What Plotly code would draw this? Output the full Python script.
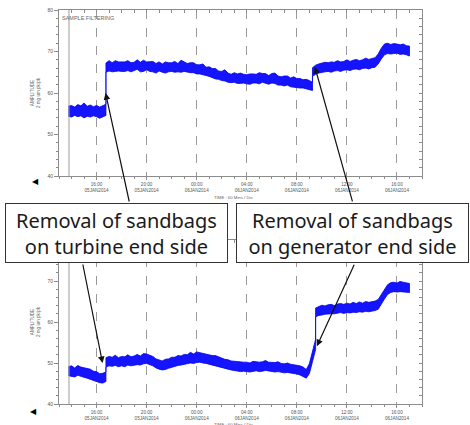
import numpy as np
import pandas as pd
import plotly.graph_objects as go

# ---------------- data (hours after 2014-01-05 00:00) ----------------
BASE = pd.Timestamp("2014-01-05")
STEP = 0.25

# top chart (turbine end) : three segments separated by the two jumps
TOP_T_A = np.arange(13.75, 16.76, STEP)
TOP_HI_A = [56.8, 57.0, 56.6, 57.2, 56.9, 57.6, 56.8, 57.1, 56.7, 57.0, 56.6, 56.9, 57.3]
TOP_LO_A = [54.4, 54.2, 54.6, 54.3, 54.5, 54.0, 54.4, 54.2, 54.5, 54.3, 53.9, 54.3, 54.6]

TOP_T_B = np.arange(16.75, 33.26, STEP)
TOP_HI_B = [67.2, 67.8, 67.3, 67.8, 67.5, 67.5, 67.5, 67.8, 67.3, 67.4,
            68.0, 67.4, 67.9, 67.5, 67.5, 67.6, 67.1, 67.5, 67.0, 67.5,
            67.3, 67.3, 67.6, 67.1, 67.9, 67.5, 67.1, 67.3, 67.3, 66.8,
            66.8, 67.0, 66.2, 66.3, 65.9, 65.9, 65.3, 65.2, 65.6, 64.8,
            64.5, 64.9, 64.6, 64.8, 64.5, 64.4, 64.6, 64.6, 64.5, 64.9,
            64.7, 64.7, 64.2, 64.7, 64.8, 64.1, 63.9, 64.1, 64.1, 63.6,
            63.9, 63.5, 63.5, 63.2, 63.3, 63.0, 62.6]
TOP_LO_B = [65.0, 65.3, 65.1, 65.2, 65.3, 65.2, 65.2, 65.4, 65.1, 65.3,
            65.7, 65.1, 65.2, 65.6, 65.2, 65.1, 64.8, 65.3, 65.0, 64.8,
            65.1, 65.2, 65.0, 65.1, 65.0, 65.2, 65.0, 64.9, 64.9, 64.6,
            64.6, 64.4, 64.2, 64.0, 63.8, 63.4, 63.3, 63.0, 62.9, 62.6,
            62.5, 62.6, 62.3, 62.3, 62.4, 62.2, 62.1, 62.4, 62.4, 62.2,
            62.6, 62.3, 62.1, 62.4, 62.3, 61.9, 61.9, 61.7, 61.9, 61.5,
            61.5, 61.3, 61.2, 61.2, 60.9, 60.8, 60.6]

TOP_T_C = np.arange(33.25, 41.01, STEP)
TOP_HI_C = [66.1, 66.7, 67.0, 67.2, 67.4, 67.3, 67.5, 67.4, 67.8, 67.5,
            67.6, 68.0, 67.6, 67.9, 68.1, 67.8, 68.0, 68.4, 68.1, 68.3,
            68.5, 69.4, 70.8, 71.8, 72.0, 71.7, 71.9, 71.8, 71.6, 71.8,
            71.4, 71.3]
TOP_LO_C = [64.0, 64.5, 64.8, 65.0, 65.1, 65.2, 65.0, 65.3, 65.4, 65.2,
            65.5, 65.6, 65.4, 65.7, 65.8, 65.6, 65.9, 66.0, 65.8, 66.1,
            66.2, 67.0, 68.2, 69.2, 69.5, 69.4, 69.5, 69.6, 69.3, 69.4,
            69.2, 68.9]

# bottom chart (generator end)
BOT_T_A = np.arange(13.75, 16.76, STEP)
BOT_HI_A = [49.1, 49.3, 48.8, 49.4, 49.0, 48.8, 48.6, 48.5, 48.0, 47.9, 47.4, 47.5, 47.8]
BOT_LO_A = [46.9, 46.8, 46.6, 47.0, 46.7, 46.5, 46.3, 46.1, 45.8, 45.5, 45.2, 45.1, 45.5]

BOT_T_B = np.arange(16.75, 33.51, STEP)
BOT_HI_B = [51.3, 51.6, 51.4, 51.9, 51.3, 51.6, 51.5, 52.0, 51.5, 51.7,
            52.1, 51.7, 52.3, 52.2, 51.9, 51.6, 51.0, 50.8, 50.5, 50.9,
            51.0, 51.4, 51.4, 51.8, 51.7, 52.1, 52.0, 52.6, 52.2, 52.7,
            52.5, 52.4, 52.1, 52.0, 51.8, 51.8, 51.4, 51.2, 50.9, 50.8,
            50.5, 50.4, 50.3, 50.3, 50.2, 50.2, 50.0, 50.4, 50.3, 50.2,
            50.3, 50.6, 50.2, 50.1, 50.1, 50.3, 49.9, 49.8, 50.0, 49.7,
            49.6, 49.5, 49.3, 49.0, 48.4, 49.8, 52.8, 55.8]
BOT_LO_B = [49.0, 49.3, 49.2, 49.4, 49.1, 49.3, 49.1, 49.5, 49.3, 49.4,
            49.6, 49.5, 49.8, 49.9, 49.7, 49.3, 48.8, 48.5, 48.3, 48.4,
            48.7, 49.0, 49.2, 49.4, 49.5, 49.7, 49.8, 50.0, 49.9, 50.1,
            50.2, 50.0, 49.9, 49.7, 49.6, 49.4, 49.2, 48.9, 48.7, 48.5,
            48.3, 48.1, 48.0, 47.9, 48.0, 47.9, 47.8, 48.0, 48.1, 47.9,
            48.0, 48.2, 48.0, 47.9, 47.8, 47.9, 47.7, 47.6, 47.7, 47.5,
            47.4, 47.3, 47.1, 46.8, 46.3, 47.4, 50.3, 53.3]

BOT_T_C = np.arange(33.5, 41.01, STEP)
BOT_HI_C = [63.4, 63.7, 64.1, 63.9, 64.2, 64.3, 64.0, 64.4, 64.5, 64.3,
            64.6, 64.4, 64.8, 64.5, 64.9, 64.6, 65.0, 64.8, 65.0, 65.1,
            65.5, 66.8, 68.0, 69.1, 69.6, 69.7, 69.5, 69.9, 69.7, 69.5, 69.4]
BOT_LO_C = [61.3, 61.6, 61.7, 61.9, 62.0, 62.0, 62.0, 62.1, 62.3, 62.1,
            62.3, 62.2, 62.4, 62.3, 62.5, 62.4, 62.6, 62.5, 62.7, 62.8,
            63.1, 64.3, 65.6, 66.7, 67.2, 67.4, 67.3, 67.4, 67.4, 67.3, 67.2]

# axes
X_RANGE_H = [13, 42]
Y_RANGE = [40, 80]
MAJOR_H = [16, 20, 24, 28, 32, 36, 40]
MAJOR_TEXT = ["16:00<br>05JAN2014", "20:00<br>05JAN2014", "00:00<br>06JAN2014",
              "04:00<br>06JAN2014", "08:00<br>06JAN2014", "12:00<br>06JAN2014",
              "16:00<br>06JAN2014"]
MINOR_H = list(range(13, 43))
Y_MAJOR = [40, 50, 60, 70, 80]
Y_MINOR = list(range(40, 81, 2))
CURSOR_H = 13.8

# arrow heads (hour, value) for top and bottom charts
TOP_ARROWS = [(16.72, 60.0), (33.44, 66.3)]
BOT_ARROWS = [(16.48, 50.0), (33.6, 54.1)]

LABEL_LEFT = "Removal of sandbags<br>on turbine end side"
LABEL_RIGHT = "Removal of sandbags<br>on generator end side"


def ts(hours):
    return list(BASE + pd.to_timedelta(np.asarray(hours, dtype=float), unit="h"))


def band(tsegs, hisegs, losegs):
    for t, h, l in zip(tsegs, hisegs, losegs):
        if not (len(t) == len(h) == len(l)):
            raise ValueError(f"length mismatch {len(t)} {len(h)} {len(l)}")
    t = np.concatenate(tsegs)
    hi = np.concatenate(hisegs)
    lo = np.concatenate(losegs)
    x = ts(t) + ts(t[::-1])
    y = list(hi) + list(lo[::-1])
    return x, y


W, H = 470, 425
XDOM = [59 / W, 422 / W]
YDOM_TOP = [1 - 176 / H, 1 - 10 / H]
YDOM_BOT = [1 - 404 / H, 1 - 240 / H]

fig = go.Figure()

xt, yt = band([TOP_T_A, TOP_T_B, TOP_T_C], [TOP_HI_A, TOP_HI_B, TOP_HI_C], [TOP_LO_A, TOP_LO_B, TOP_LO_C])
xb, yb = band([BOT_T_A, BOT_T_B, BOT_T_C], [BOT_HI_A, BOT_HI_B, BOT_HI_C], [BOT_LO_A, BOT_LO_B, BOT_LO_C])

blue = "#1414ff"
fig.add_trace(go.Scatter(x=xt, y=yt, mode="lines", fill="toself", fillcolor=blue,
                         line=dict(color="#0000f0", width=0.8), xaxis="x", yaxis="y", hoverinfo="skip"))
fig.add_trace(go.Scatter(x=xb, y=yb, mode="lines", fill="toself", fillcolor=blue,
                         line=dict(color="#0000f0", width=0.8), xaxis="x2", yaxis="y2", hoverinfo="skip"))
# empty traces for overlay (inside-tick) axes
for xa, ya in [("x3", "y3"), ("x4", "y4")]:
    fig.add_trace(go.Scatter(x=[], y=[], xaxis=xa, yaxis=ya, showlegend=False))

axc = "#8c8c8c"
tickfont = dict(size=4.6, color="#555555", family="Liberation Sans")


def xmain(anchor):
    return dict(type="date", range=ts(X_RANGE_H), domain=XDOM, anchor=anchor, automargin=False,
                tickmode="array", tickvals=ts(MAJOR_H), ticktext=MAJOR_TEXT,
                ticks="outside", ticklen=3, tickcolor=axc, tickfont=tickfont,
                showgrid=True, gridcolor="#9a9a9a", griddash="dash", gridwidth=1,
                showline=True, linecolor=axc, linewidth=1, mirror=True, zeroline=False,
                minor=dict(tickmode="array", tickvals=ts(MINOR_H), ticks="outside",
                           ticklen=2, tickcolor=axc, showgrid=False))


def xover(over, anchor):
    return dict(type="date", range=ts(X_RANGE_H), overlaying=over, side="top", anchor=anchor,
                automargin=False, tickmode="array", tickvals=ts(MINOR_H), ticks="inside",
                ticklen=3, tickcolor=axc, showticklabels=False, showgrid=False,
                showline=False, zeroline=False)


def ymain(dom, anchor):
    return dict(range=Y_RANGE, domain=dom, anchor=anchor, automargin=False, tickmode="array",
                tickvals=Y_MAJOR, ticks="outside", ticklen=4, tickcolor=axc,
                tickfont=dict(size=5, color="#555555", family="Liberation Sans"),
                showgrid=False, showline=True, linecolor=axc,
                linewidth=1, mirror=True, zeroline=False,
                title=dict(text="AMPLITUDE<br>2 mg um pk/pk", font=dict(size=4.6, color="#666",
                           family="Liberation Sans"), standoff=6),
                minor=dict(tickmode="array", tickvals=Y_MINOR, ticks="outside", ticklen=2,
                           tickcolor=axc, showgrid=False))


def yover(over, anchor):
    return dict(range=Y_RANGE, overlaying=over, side="right", anchor=anchor, automargin=False,
                tickmode="array", tickvals=Y_MINOR, ticks="inside", ticklen=3,
                tickcolor=axc, showticklabels=False, showgrid=False, showline=False,
                zeroline=False)


fig.update_layout(
    width=W, height=H, margin=dict(l=0, r=0, t=0, b=0, autoexpand=False),
    paper_bgcolor="white", plot_bgcolor="white", showlegend=False,
    xaxis=xmain("y"), yaxis=ymain(YDOM_TOP, "x"),
    xaxis2=xmain("y2"), yaxis2=ymain(YDOM_BOT, "x2"),
    xaxis3=xover("x", "y"), yaxis3=yover("y", "x"),
    xaxis4=xover("x2", "y2"), yaxis4=yover("y2", "x2"),
)

# cursor lines
for xr, yr in [("x", "y domain"), ("x2", "y2 domain")]:
    fig.add_shape(type="line", xref=xr, yref=yr, x0=ts([CURSOR_H])[0], x1=ts([CURSOR_H])[0],
                  y0=0, y1=1, line=dict(color="#9a9a9a", width=1))

ann = []
small = dict(size=5.5, color="#666666", family="Liberation Sans")
ann.append(dict(text="SAMPLE FILTERING", x=60 / W, y=1 - 18 / H, xref="paper", yref="paper",
                xanchor="left", yanchor="middle", showarrow=False, font=small))
for yy in [197, 424]:
    ann.append(dict(text="TIME : 60 Mins / Div", x=234 / W, y=1 - yy / H, xref="paper", yref="paper",
                    xanchor="center", yanchor="middle", showarrow=False,
                    font=dict(size=4.3, color="#666666", family="Liberation Sans")))
for xx, yy in [(35, 180), (33, 410)]:
    ann.append(dict(text="◀", x=xx / W, y=1 - yy / H, xref="paper", yref="paper",
                    xanchor="center", yanchor="middle",
                    showarrow=False, font=dict(size=8, color="black")))

boxfont = dict(size=20, color="#1a1a1a", family="Noto Sans")
ann.append(dict(text=LABEL_LEFT, x=116.5 / W, y=1 - 233 / H, xref="paper", yref="paper",
                xanchor="center", yanchor="middle",
                showarrow=False, width=221, height=58, borderpad=0, bordercolor="#333",
                borderwidth=1, bgcolor="white", font=boxfont, align="center"))
ann.append(dict(text=LABEL_RIGHT, x=352 / W, y=1 - 233 / H, xref="paper", yref="paper",
                xanchor="center", yanchor="middle",
                showarrow=False, width=231, height=58, borderpad=0, bordercolor="#333",
                borderwidth=1, bgcolor="white", font=boxfont, align="center"))

tails_top = [(24, 110), (38, 136)]
tails_bot = [(-20, -100), (38, -83)]
for (h, v), (ax, ay) in zip(TOP_ARROWS, tails_top):
    ann.append(dict(text="", x=ts([h])[0], y=v, xref="x", yref="y", ax=ax, ay=ay,
                    showarrow=True, arrowhead=2, arrowsize=1.1, arrowwidth=1.2,
                    arrowcolor="#111", standoff=0))
for (h, v), (ax, ay) in zip(BOT_ARROWS, tails_bot):
    ann.append(dict(text="", x=ts([h])[0], y=v, xref="x2", yref="y2", ax=ax, ay=ay,
                    showarrow=True, arrowhead=2, arrowsize=1.1, arrowwidth=1.2,
                    arrowcolor="#111", standoff=0))
fig.update_layout(annotations=ann)

fig.write_html("out.html", config={"displayModeBar": False},
               post_script="document.body.style.margin='0';document.body.style.padding='0';"
                           "document.body.style.overflow='hidden';")
